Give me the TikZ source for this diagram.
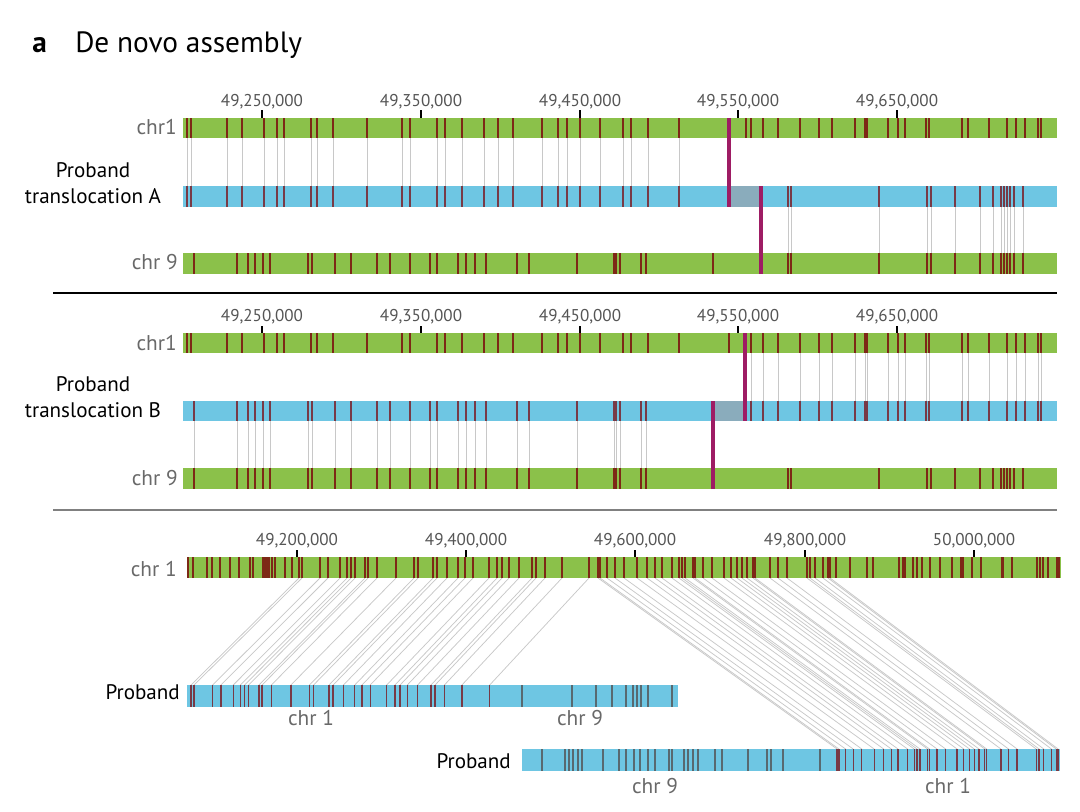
\documentclass[tikz,border=0pt]{standalone}
\usepackage{fontspec}
\setmainfont{PT Sans}
\usetikzlibrary{positioning}
\definecolor{chrgreen}{RGB}{139,193,74}
\definecolor{asmblue}{RGB}{110,198,227}
\definecolor{stripered}{RGB}{125,40,22}
\definecolor{stripeblue}{RGB}{120,58,70}
\definecolor{stripeslate}{RGB}{88,105,112}
\definecolor{brkpink}{RGB}{158,28,100}
\definecolor{brkshade}{RGB}{138,172,188}
\definecolor{linkgray}{RGB}{200,200,200}
\definecolor{labgray}{RGB}{105,105,105}
\definecolor{tickgray}{RGB}{85,85,85}
\tikzset{%
	chrbar/.style={fill=chrgreen},
	asmbar/.style={fill=asmblue},
	stripe/.style={draw=stripered, line width=1.3pt},
	bstripe/.style={draw=stripeblue, line width=1.3pt},
	sstripe/.style={draw=stripeslate, line width=1.1pt},
	link/.style={draw=linkgray, line width=0.7pt},
	brk/.style={draw=brkpink, line width=2.6pt},
	tickmark/.style={draw=black, line width=2.2pt},
	ticklab/.style={text=tickgray, anchor=base, inner sep=0pt, font=\fontsize{12.8}{12.8}\selectfont},
	chrlab/.style={text=labgray, anchor=base east, inner sep=0pt, font=\fontsize{16}{16}\selectfont},
	sublab/.style={text=labgray, anchor=base, inner sep=0pt, font=\fontsize{16}{16}\selectfont},
	probandlab/.style={align=center, inner sep=0pt, font=\fontsize{15.8}{20}\selectfont},
	title/.style={anchor=base west, inner sep=0pt, font=\fontsize{22}{22}\selectfont}
}
\newcommand{\stripes}[4]{\foreach \x in #1 \draw[#4] (\x,#2) -- (\x,#3);}
\newcommand{\links}[3]{\foreach \x in #1 \draw[link] (\x,#2) -- (\x,#3);}
% stripe positions, panels A and B
\def\oneleft{187,191,227,242,264,277,284,311,317,333,367,402,410,437,445,462,484,498,513,542,558,567,580,600,623,631,648,679}
\def\oneright{746,751,763,778,800,819,832,855,865,867,888,898,905,926,929,962,968,989,1007,1016,1025,1038,1041}
\def\nineleft{194,237,248,255,263,270,308,312,335,351,377,390,410,430,437,458,466,475,486,517,529,577,614,616,620,641,646}
\def\nineright{788,791,879,927,931,955,980,993,1001,1004,1007,1010,1014,1023}
% stripe positions, panel C
\def\onefar{188,193,207,212,220,230,239,250,253,263,265,267,269,272,275,285,292}
\def\onetoA{299,302,320,328,340,347,351,355,365,368,377,396,414,418,433,437,447,458,465,473,489,497,502,509,519,532,536,545,562,589}
\def\onetoB{598,600,607,615,624,637,647,655,662,672,679,682,685,693,695,703,712,724,731,737,742,747,753,755,770,778,787,807,810,815,823,828,830}
\def\onerest{836,850,867,873,899,903,905,913,917,922,930,940,952,961,963,972,981,1002,1003,1012,1037,1040,1043,1048,1057,1059}
\def\ninepA{522,572,596,612,626,633,637,641,648,672}
\def\ninepB{542,565,569,573,578,582,603,619,626,634,640,648,655,669,672,684,688,693,698,715,722,748,767,771,783,820}

\begin{document}
\begin{tikzpicture}[x=0.75pt, y=-0.75pt]
	\useasboundingbox[fill=white] (0,0) rectangle (1080,811);

	\node[title, font=\bfseries\fontsize{22}{22}\selectfont] (panel) at (32,52) {a};
	\node[title] (heading) at (75,52) {De novo assembly};

	% translocation A
	\foreach \x/\k in {262/25,421/35,580/45,738/55,897/65}{
		\draw[tickmark] (\x,110) -- (\x,118);
		\node[ticklab] at (\x,106) {49,\k0,000};
	}
	\links{\oneleft}{138}{186}
	\links{\nineright}{207}{253}
	\fill[chrbar] (183,118) rectangle (1057,138);
	\fill[asmbar] (183,186) rectangle (1057,207);
	\fill[chrbar] (183,253) rectangle (1057,274);
	\fill[brkshade] (729,186) rectangle (761,207);
	\stripes{\oneleft}{118}{138}{stripe}
	\stripes{\oneright}{118}{138}{stripe}
	\stripes{\nineleft}{253}{274}{stripe}
	\stripes{\nineright}{253}{274}{stripe}
	\stripes{\oneleft}{186}{207}{bstripe}
	\stripes{\nineright}{186}{207}{bstripe}
	\draw[stripe] (713,253) -- (713,274);
	\draw[brk] (729,118) -- (729,207);
	\draw[brk] (761,186) -- (761,274);
	\node[chrlab] (oneA) at (177,134) {chr1};
	\node[probandlab] (probA) at (93,183) {Proband\\translocation A};
	\node[chrlab] (nineA) at (178,269) {chr 9};

	\draw[line width=2pt] (53,293) -- (1057,293);

	% translocation B
	\foreach \x/\k in {262/25,421/35,580/45,738/55,897/65}{
		\draw[tickmark] (\x,326) -- (\x,333);
		\node[ticklab] at (\x,321) {49,\k0,000};
	}
	\links{\oneright}{353}{401}
	\links{\nineleft}{421}{468}
	\fill[chrbar] (183,333) rectangle (1057,353);
	\fill[asmbar] (183,401) rectangle (1057,421);
	\fill[chrbar] (183,468) rectangle (1057,489);
	\fill[brkshade] (713,401) rectangle (745,421);
	\stripes{\oneleft}{333}{353}{stripe}
	\stripes{\oneright}{333}{353}{stripe}
	\stripes{\nineleft}{468}{489}{stripe}
	\stripes{\nineright}{468}{489}{stripe}
	\stripes{\nineleft}{401}{421}{bstripe}
	\stripes{\oneright}{401}{421}{bstripe}
	\draw[stripe] (729,333) -- (729,353);
	\draw[brk] (745,333) -- (745,421);
	\draw[brk] (713,401) -- (713,489);
	\node[chrlab] (oneB) at (177,350) {chr1};
	\node[probandlab] (probB) at (93,397) {Proband\\translocation B};
	\node[chrlab] (nineB) at (178,485) {chr 9};

	\draw[gray, line width=1.2pt] (53,510) -- (1057,510);

	% whole assembly
	\foreach \x/\m/\k in {297/49/2,466/49/4,635/49/6,805/49/8,974/50/0}{
		\draw[tickmark] (\x,550) -- (\x,557);
		\node[ticklab] at (\x,545) {\m,\k00,000};
	}
	\foreach \x [evaluate=\x as \p using 191+(\x-299)*1.03] in \onetoA
		\draw[link, line width=0.55pt] (\x,578) -- (\p,685);
	\foreach \x [evaluate=\x as \p using 837+(\x-598)*0.953] in \onetoB
		\draw[link, line width=0.55pt] (\x,578) -- (\p,749);
	\fill[chrbar] (188,557) rectangle (1061,578);
	\stripes{\onefar}{557}{578}{stripe, line width=1.1pt}
	\stripes{\onetoA}{557}{578}{stripe, line width=1.1pt}
	\stripes{\onetoB}{557}{578}{stripe, line width=1.1pt}
	\stripes{\onerest}{557}{578}{stripe, line width=1.1pt}
	\node[chrlab] (oneC) at (177,576) {chr 1};

	\fill[asmbar] (187,685) rectangle (678,707);
	\foreach \x [evaluate=\x as \p using 191+(\x-299)*1.03] in \onetoA
		\draw[bstripe, line width=1pt] (\p,685) -- (\p,707);
	\stripes{\ninepA}{685}{707}{sstripe}
	\node[probandlab, anchor=base east] (probC) at (180,699) {Proband};
	\node[sublab] (oneP) at (311,725) {chr 1};
	\node[sublab] (nineP) at (580,725) {chr 9};

	\fill[asmbar] (522,749) rectangle (1060,771);
	\foreach \x [evaluate=\x as \p using 837+(\x-598)*0.953] in \onetoB
		\draw[bstripe, line width=1pt] (\p,749) -- (\p,771);
	\stripes{\ninepB}{749}{771}{sstripe}
	\node[probandlab, anchor=base east] (probD) at (511,768) {Proband};
	\node[sublab] (nineQ) at (655,793) {chr 9};
	\node[sublab] (oneQ) at (948,793) {chr 1};
\end{tikzpicture}
\end{document}
